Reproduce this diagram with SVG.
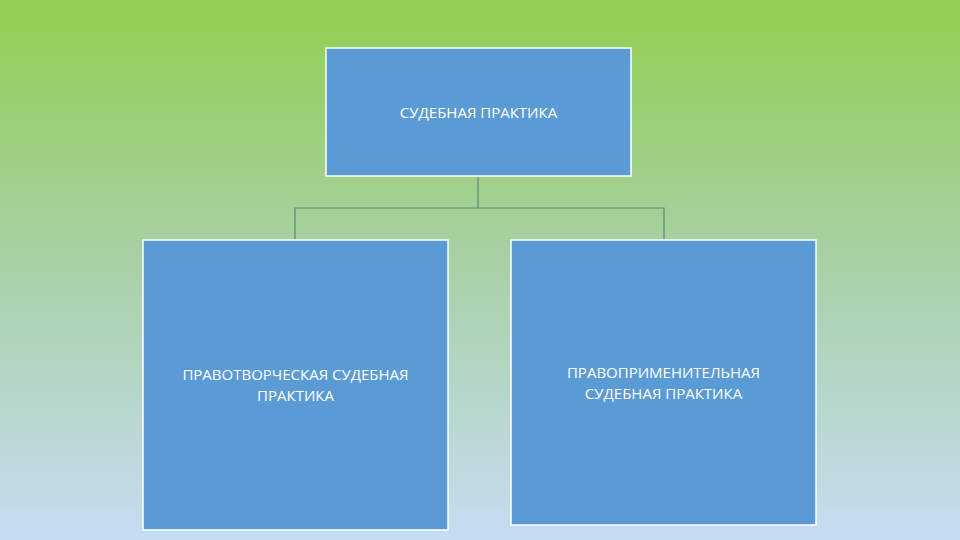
<svg xmlns="http://www.w3.org/2000/svg" width="960" height="540" viewBox="0 0 960 540">
<defs>
<linearGradient id="bg" x1="0" y1="0" x2="0" y2="1">
<stop offset="0" stop-color="#92d050"/>
<stop offset="0.45" stop-color="#a6d0a0"/>
<stop offset="1" stop-color="#c6dcf2"/>
</linearGradient>
<style>
.box{fill:#5b9bd5;stroke:#ffffff;stroke-width:1.5}
.t{font-family:"Open Sans","Liberation Sans",sans-serif;font-size:15px;fill:#ffffff;text-anchor:middle}
.c{fill:none;stroke:#5a8a7a;stroke-width:1.2}
</style>
</defs>
<rect width="960" height="540" fill="url(#bg)"/>
<g id="connectors">
<path class="c" d="M478 176V208M295 240V208H664V240"/>
</g>
<g id="top">
<rect class="box" x="326" y="48" width="305" height="128"/>
<text class="t" x="478.5" y="118">СУДЕБНАЯ ПРАКТИКА</text>
</g>
<g id="left">
<rect class="box" x="143" y="240" width="305" height="290"/>
<text class="t" x="295.5" y="380">ПРАВОТВОРЧЕСКАЯ СУДЕБНАЯ</text>
<text class="t" x="295.5" y="401">ПРАКТИКА</text>
</g>
<g id="right">
<rect class="box" x="511" y="240" width="305" height="285"/>
<text class="t" x="663.5" y="378">ПРАВОПРИМЕНИТЕЛЬНАЯ</text>
<text class="t" x="663.5" y="399">СУДЕБНАЯ ПРАКТИКА</text>
</g>
</svg>
